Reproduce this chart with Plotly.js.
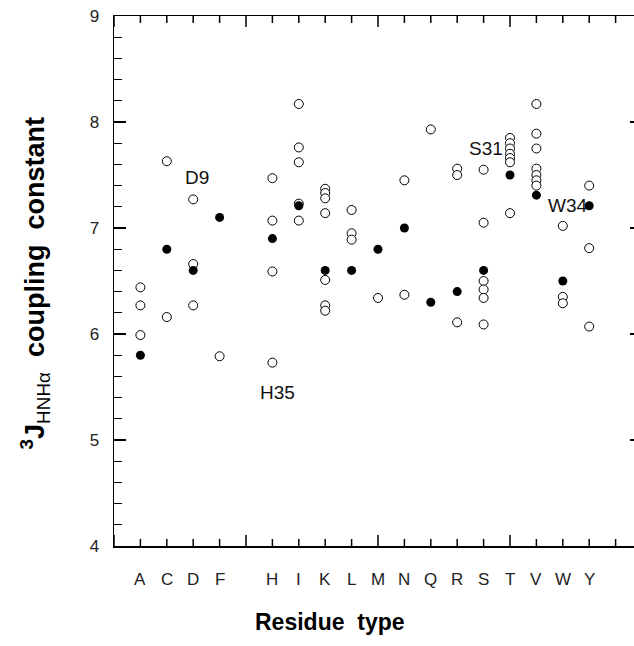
<!DOCTYPE html>
<html>
<head>
<meta charset="utf-8">
<script src="https://cdn.plot.ly/plotly-3.0.1.min.js"></script>
<style>
html,body{margin:0;padding:0;overflow:hidden;background:#fff;}
#chart{width:660px;height:646px;}
</style>
</head>
<body>
<div id="chart"></div>
<script>
// Residue slots along the x axis ('' = empty slot)
const residues = ['A','C','D','F','','H','I','K','L','M','N','Q','R','S','T','V','W','Y',''];

// Open circles: residue and coupling constant
const openRes = [
  'A','A','A',
  'C','C',
  'D','D','D',
  'F',
  'H','H','H','H',
  'I','I','I','I','I',
  'K','K','K','K','K','K','K',
  'L','L','L',
  'M',
  'N','N',
  'Q',
  'R','R','R',
  'S','S','S','S','S','S',
  'T','T','T','T','T','T','T',
  'V','V','V','V','V','V','V',
  'W','W','W',
  'Y','Y','Y'
];
const openJ = [
  6.44,6.27,5.99,
  7.63,6.16,
  7.27,6.66,6.27,
  5.79,
  7.47,7.07,6.59,5.73,
  8.17,7.76,7.62,7.23,7.07,
  7.37,7.33,7.28,7.14,6.51,6.27,6.22,
  7.17,6.95,6.89,
  6.34,
  7.45,6.37,
  7.93,
  7.56,7.50,6.11,
  7.55,7.05,6.50,6.42,6.34,6.09,
  7.85,7.80,7.75,7.70,7.66,7.62,7.14,
  8.17,7.89,7.75,7.56,7.50,7.45,7.40,
  7.02,6.35,6.29,
  7.40,6.81,6.07
];

// Filled circles: residue and coupling constant
const filledRes = ['A','C','D','F','H','I','K','L','M','N','Q','R','S','T','V','W','Y'];
const filledJ   = [5.80,6.80,6.60,7.10,6.90,7.21,6.60,6.60,6.80,7.00,6.30,6.40,6.60,7.50,7.31,6.50,7.21];

// Point labels (x given as axis position, y as coupling constant)
const labelText = ['D9','H35','S31','W34'];
const labelPos  = [3.14, 6.21, 14.09, 17.2];
const labelJ    = [7.48, 5.45, 7.75, 7.21];

const pos = r => residues.indexOf(r) + 1;
const slotCount = residues.length + 1;   // slots 0..20 on the x axis

const fontFam = 'Liberation Sans, Arial, Helvetica, sans-serif';

const traces = [
  {x: openRes.map(pos), y: openJ, type:'scatter', mode:'markers',
   marker: {size:9, color:'#fff', symbol:'circle', line:{color:'#000', width:1}},
   showlegend:false},
  {x: filledRes.map(pos), y: filledJ, type:'scatter', mode:'markers',
   marker: {size:9, color:'#000', symbol:'circle', line:{color:'#000', width:0}},
   showlegend:false}
];

const annotations = labelText.map((t,i)=>({
  text:t, x: labelPos[i], y: labelJ[i], xref:'x', yref:'y', showarrow:false,
  font:{family:fontFam, size:19, color:'#111'}
}));

// residue letters under the axis, placed on the x scale
residues.forEach((r)=>{
  if (!r) return;
  annotations.push({
    text:r, x: pos(r), y:-0.064, xref:'x', yref:'paper', showarrow:false,
    xanchor:'center', yanchor:'middle',
    font:{family:fontFam, size:17, color:'#222'}
  });
});

annotations.push({
  text:'<b>Residue  type</b>', xref:'paper', yref:'paper', x:0.409, y:-0.143,
  xanchor:'center', yanchor:'middle', showarrow:false,
  font:{family:fontFam, size:23, color:'#000'}
});
annotations.push({
  text:'<b><sup>3</sup>J</b><sub>HNHα</sub><b>  coupling  constant</b>', xref:'paper', yref:'paper',
  x:-0.15, y:0.495, xanchor:'center', yanchor:'middle', textangle:-90, showarrow:false,
  font:{family:fontFam, size:27, color:'#000'}
});

// x-axis tick marks (inside, bottom and top edges): long every 5 slots, short otherwise
const shapes = [];
for (let s = 0; s <= slotCount; s++) {
  const len = (s % 5 === 0) ? 11 : 7;
  shapes.push({type:'line', xref:'x', yref:'paper', ysizemode:'pixel', yanchor:0,
    x0:s, x1:s, y0:0, y1:len, line:{color:'#000', width:1.5}});
  shapes.push({type:'line', xref:'x', yref:'paper', ysizemode:'pixel', yanchor:1,
    x0:s, x1:s, y0:0, y1:-len, line:{color:'#000', width:1.5}});
}

const tickFont = {family:fontFam, size:17, color:'#222'};

const layout = {
  width:660, height:646,
  margin:{l:114, r:18, t:16, b:100},
  paper_bgcolor:'#fff', plot_bgcolor:'#fff',
  showlegend:false,
  xaxis:{
    range:[0,20], showgrid:false, zeroline:false, showticklabels:false,
    ticks:'', showline:true, linecolor:'#000', linewidth:1.5, mirror:true
  },
  yaxis:{
    range:[4,9], showgrid:false, zeroline:false,
    tickmode:'linear', tick0:4, dtick:1,
    ticks:'inside', ticklen:12, tickwidth:1.3, tickcolor:'#000',
    minor:{tick0:4, dtick:0.2, ticks:'inside', ticklen:8, tickwidth:1.3, tickcolor:'#000', showgrid:false},
    showline:true, linecolor:'#000', linewidth:1.5, mirror:'ticks',
    tickfont: tickFont, ticklabelstandoff:10
  },
  shapes: shapes,
  annotations: annotations
};

Plotly.newPlot('chart', traces, layout, {displayModeBar:false, staticPlot:true});
</script>
</body>
</html>
